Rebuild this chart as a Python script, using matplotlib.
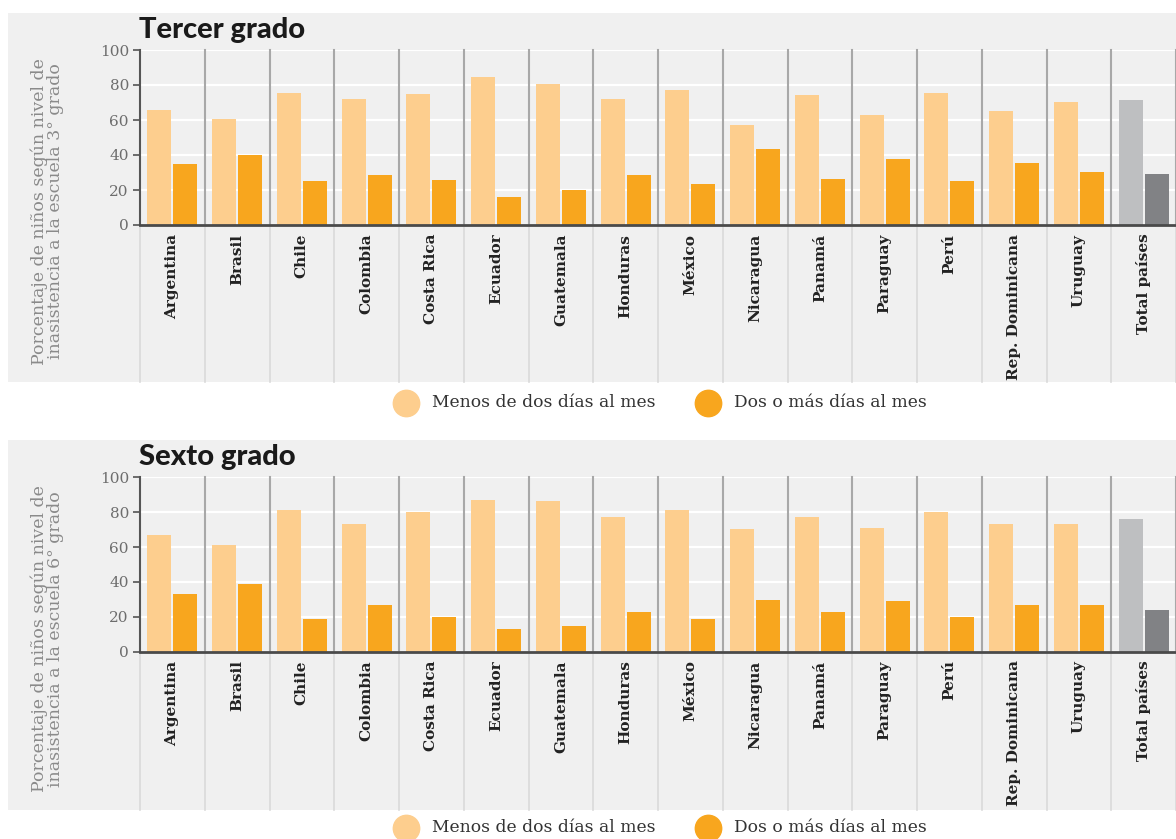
import numpy as np
import matplotlib.pyplot as plt
from matplotlib.patches import Rectangle

paises = ["Argentina", "Brasil", "Chile", "Colombia", "Costa Rica", "Ecuador",
          "Guatemala", "Honduras", "México", "Nicaragua", "Panamá", "Paraguay",
          "Perú", "Rep. Dominicana", "Uruguay", "Total países"]

# tercer grado
menos_3 = [66, 60.5, 75.5, 72, 75, 84.5, 80.5, 72, 77, 57, 74.5, 63, 75.5, 65, 70.5, 71.5]
mas_3 = [35, 40, 25, 28.5, 25.5, 16, 20, 28.5, 23.5, 43.5, 26.5, 37.5, 25, 35.5, 30.5, 29]
# sexto grado
menos_6 = [67, 61, 81, 73, 80, 87, 86.5, 77, 81, 70.5, 77, 71, 80, 73, 73, 76]
mas_6 = [33, 39, 19, 27, 20, 13, 15, 23, 19, 29.5, 23, 29, 20, 27, 27, 24]

titulos = ["Tercer grado", "Sexto grado"]
ylabels = ["Porcentaje de niños según nivel de\ninasistencia a la escuela 3° grado",
           "Porcentaje de niños según nivel de\ninasistencia a la escuela 6° grado"]
leyenda = ["Menos de dos días al mes", "Dos o más días al mes"]

c_claro = "#fdce8e"
c_oscuro = "#f8a61e"
g_claro = "#bebfc1"
g_oscuro = "#818285"
fondo = "#f0f0f0"

W, H = 1176, 839
fig = plt.figure(figsize=(W / 100, H / 100), dpi=100)

def fx(px):
    return px / W

def fy(py):
    return 1 - py / H

serif = "DejaVu Serif"

paneles = [
    dict(top=13, bot=382, ax_top=50, ax_bot=225, ley=403),
    dict(top=440, bot=810, ax_top=477.3, ax_bot=651.7, ley=828),
]
datos = [(menos_3, mas_3), (menos_6, mas_6)]

x = np.arange(len(paises))
for i, p in enumerate(paneles):
    # fondo gris del panel
    fig.patches.append(Rectangle((fx(8), fy(p["bot"])), fx(W - 8), (p["bot"] - p["top"]) / H,
                                 transform=fig.transFigure, facecolor=fondo,
                                 edgecolor="none", zorder=-5))
    ax = fig.add_axes([fx(140), fy(p["ax_bot"]), fx(W - 140),
                       (p["ax_bot"] - p["ax_top"]) / H])
    ax.set_facecolor("none")
    menos, mas = datos[i]
    col1 = [c_claro] * (len(paises) - 1) + [g_claro]
    col2 = [c_oscuro] * (len(paises) - 1) + [g_oscuro]
    ax.bar(x - 0.2, menos, width=0.37, color=col1, zorder=3)
    ax.bar(x + 0.2, mas, width=0.37, color=col2, zorder=3)
    ax.set_xlim(-0.5, len(paises) - 0.5)
    ax.set_ylim(0, 100)
    ax.set_yticks([0, 20, 40, 60, 80, 100])
    ax.yaxis.grid(True, color="white", lw=1.6, zorder=1)
    ax.set_axisbelow(True)
    ax.tick_params(axis="y", length=5, width=1.2, color="#555555",
                   labelsize=11, labelcolor="#6d6d6d", pad=3)
    for lab in ax.get_yticklabels():
        lab.set_fontfamily(serif)
    ax.set_xticks([])
    for s in ["top", "right"]:
        ax.spines[s].set_visible(False)
    ax.spines["left"].set_color("#555555")
    ax.spines["left"].set_linewidth(1.5)
    ax.spines["bottom"].set_color("#4a4a4a")
    ax.spines["bottom"].set_linewidth(2)
    ax.spines["bottom"].set_zorder(4)

    # separadores verticales
    abajo = -(p["bot"] - p["ax_bot"]) / (p["ax_bot"] - p["ax_top"])
    tr = ax.get_xaxis_transform()
    for k in range(0, len(paises) + 1):
        xs = k - 0.5
        if k > 0:
            ax.plot([xs, xs], [0, 1], transform=tr, color="#a8a8a8", lw=1.5, zorder=2,
                    clip_on=False)
        ax.plot([xs, xs], [abajo, 0], transform=tr, color="#dadada", lw=1.2,
                zorder=2, clip_on=False)

    # etiquetas de países
    for k, nombre in enumerate(paises):
        ax.text(k, -0.05, nombre, transform=tr, rotation=90, ha="center", va="top",
                fontsize=11, fontweight="bold", color="#222222", fontfamily=serif)

    fig.text(fx(139), fy(p["ax_top"] - 20), titulos[i], fontsize=21, fontweight=900,
             color="#1a1a1a", ha="left", va="center", fontfamily="Lato")
    fig.text(fx(47), fy((p["top"] + p["bot"]) / 2 + 14), ylabels[i], rotation=90,
             ha="center", va="center", fontsize=12.5, color="#8a8a8a",
             fontfamily=serif, linespacing=0.95)

    # leyenda
    yl = fy(p["ley"])
    fig.lines.append(plt.Line2D([fx(406)], [yl], marker="o", markersize=19,
                                color=c_claro, transform=fig.transFigure))
    fig.text(fx(432), yl, leyenda[0], ha="left", va="center", fontsize=12.3,
             color="#333333", fontfamily=serif)
    fig.lines.append(plt.Line2D([fx(708)], [yl], marker="o", markersize=19,
                                color=c_oscuro, transform=fig.transFigure))
    fig.text(fx(734), yl, leyenda[1], ha="left", va="center", fontsize=12.3,
             color="#333333", fontfamily=serif)

fig.savefig("out.png", dpi=100)
